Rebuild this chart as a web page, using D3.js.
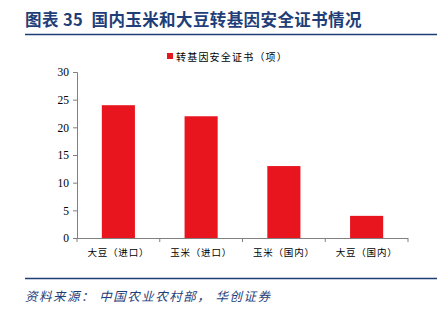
<!DOCTYPE html>
<html><head><meta charset="utf-8">
<script src="https://cdn.jsdelivr.net/npm/d3@7"></script>
<style>body{margin:0;background:#fff}svg{display:block}</style>
</head><body>
<svg id="c" width="442" height="310"></svg>
<script>
const categories = ["大豆（进口）", "玉米（进口）", "玉米（国内）", "大豆（国内）"];
const values = [24, 22, 13, 4];
const yTicks = [0, 5, 10, 15, 20, 25, 30];
const seriesName = "转基因安全证书（项）";
const titleText = "图表 35  国内玉米和大豆转基因安全证书情况";
const sourceText = "资料来源： 中国农业农村部， 华创证券";

const svg = d3.select("#c");
const navy = "#1f3e78", red = "#e8141e", cjk = "'Noto Sans CJK SC', sans-serif";

svg.append("text").attr("x", 25).attr("y", 26).attr("font-family", cjk).attr("font-weight", "bold")
  .attr("font-size", 16.5).attr("letter-spacing", 0.4).attr("fill", navy).attr("xml:space", "preserve").text(titleText);
svg.append("line").attr("x1", 25).attr("x2", 437).attr("y1", 34.5).attr("y2", 34.5).attr("stroke", navy).attr("stroke-width", 1.5);
svg.append("line").attr("x1", 25).attr("x2", 437).attr("y1", 278.5).attr("y2", 278.5).attr("stroke", navy).attr("stroke-width", 1.5);
svg.append("text").attr("x", 25).attr("y", 301).attr("font-family", cjk).attr("font-style", "italic")
  .attr("font-size", 12.5).attr("letter-spacing", 1.5).attr("fill", navy).text(sourceText);

// legend
svg.append("rect").attr("x", 167).attr("y", 53).attr("width", 6).attr("height", 6).attr("fill", red);
svg.append("text").attr("x", 176).attr("y", 60.5).attr("font-family", cjk).attr("font-size", 10)
  .attr("letter-spacing", 1.2).attr("fill", "#000").text(seriesName);

const x = d3.scaleBand().domain(categories).range([77, 408]).paddingInner(0.6).paddingOuter(0.3);
const y = d3.scaleLinear().domain([0, 30]).range([238, 72]);

svg.selectAll("rect.bar").data(values).enter().append("rect").attr("class", "bar")
  .attr("x", (d, i) => x(categories[i])).attr("width", x.bandwidth())
  .attr("y", d => y(d)).attr("height", d => y(0) - y(d)).attr("fill", red);

const ya = svg.append("g").attr("transform", "translate(77,0)")
  .call(d3.axisLeft(y).tickValues(yTicks).tickSize(4).tickPadding(4));
ya.select(".domain").attr("stroke", "#808080");
ya.selectAll(".tick line").attr("stroke", "#808080");
ya.selectAll("text").attr("font-family", "'Liberation Serif', serif").attr("font-size", 11.5).attr("fill", "#000");

const xb = d3.scaleBand().domain(categories).range([77, 408]);
const xa = svg.append("g").attr("transform", "translate(0,238)")
  .call(d3.axisBottom(xb).tickSize(0).tickPadding(11));
xa.select(".domain").attr("stroke", "#808080").attr("d", "M77,0.5H408");
xa.selectAll("text").attr("font-family", cjk).attr("font-size", 9.5).attr("letter-spacing", 0.8).attr("fill", "#000");
const bounds = [77].concat(categories.map(c => xb(c) + xb.bandwidth()));
xa.selectAll("line.sep").data(bounds).enter().append("line").attr("class", "sep")
  .attr("x1", d => d).attr("x2", d => d).attr("y1", 0).attr("y2", 4).attr("stroke", "#808080");
</script>
</body></html>
